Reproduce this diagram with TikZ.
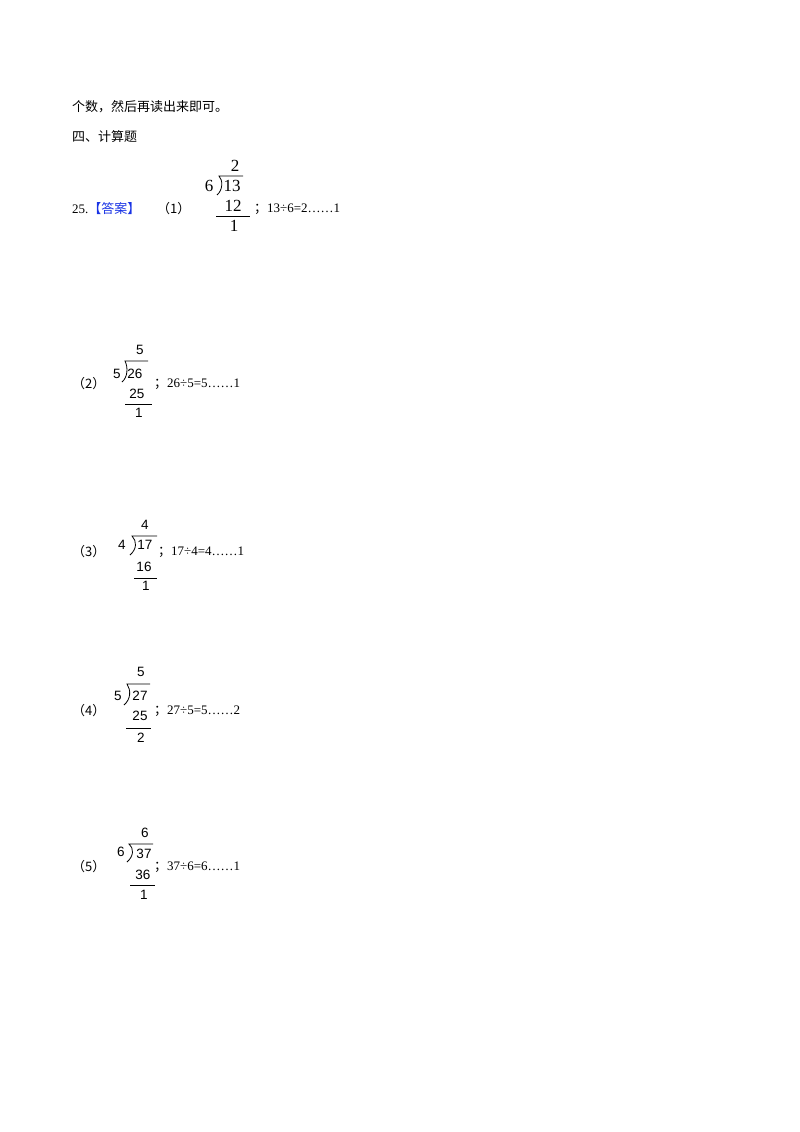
\documentclass[tikz,border=0pt]{standalone}
\usepackage{fontspec}
\setmainfont{Liberation Serif}
\newfontfamily\cjk{Noto Sans CJK SC}
\newfontfamily\arl{Liberation Sans}
\begin{document}
\begin{tikzpicture}[x=1pt,y=-1pt,
  txt/.style={anchor=west,inner sep=0pt,font=\fontsize{13}{15}\selectfont},
  dg/.style={inner sep=0pt,font=\arl\fontsize{13.5}{15}\selectfont},
  dg1/.style={inner sep=0pt,font=\fontsize{17}{19}\selectfont},
  ln/.style={line width=0.8pt}]
\useasboundingbox[fill=white] (0,0) rectangle (800,1132);
\node[txt] (h1) at (72,107) {\cjk 个数，然后再读出来即可。};
\node[txt] (h2) at (72,137) {\cjk 四、计算题};
\node[txt] (n25) at (72,209) {25.\textcolor[rgb]{0.1,0.2,0.9}{\cjk【答案】}};
\node[txt] (p1) at (157,209) {\cjk（1）};
% div 1
\node[dg1] (q1) at (235,166) {2};
\node[dg1] (d1) at (209,186) {6};
\node[dg1] (a1) at (232,186) {13};
\node[dg1] (s1) at (233,206) {12};
\node[dg1] (r1) at (234,226) {1};
\draw[ln] (217,195) .. controls (223,190) and (223,180) .. (219,176) -- (243,176);
\draw[ln] (216,216) -- (250,216);
\node[txt] (e1) at (254,209) {{\cjk ；}13÷6=2……1};
% div 2
\node[txt] (p2) at (72,384) {\cjk（2）};
\node[dg] (q2) at (140,350) {5};
\node[dg] (d2) at (117,374) {5};
\node[dg] (a2) at (135,374) {26};
\node[dg] (s2) at (137,394) {25};
\node[dg] (r2) at (139,413) {1};
\draw[ln] (122,382) .. controls (128,377) and (128,367) .. (125,361) -- (148,361);
\draw[ln] (125,404) -- (152,404);
\node[txt] (e2) at (154,384) {{\cjk ；}26÷5=5……1};
% div 3
\node[txt] (p3) at (72,552) {\cjk（3）};
\node[dg] (q3) at (145,525) {4};
\node[dg] (d3) at (122,545) {4};
\node[dg] (a3) at (145,545) {17};
\node[dg] (s3) at (144,567) {16};
\node[dg] (r3) at (146,586) {1};
\draw[ln] (130,555) .. controls (137,549) and (137,541) .. (132,536) -- (157,536);
\draw[ln] (134,578) -- (157,578);
\node[txt] (e3) at (158,552) {{\cjk ；}17÷4=4……1};
% div 4
\node[txt] (p4) at (72,711) {\cjk（4）};
\node[dg] (q4) at (141,672) {5};
\node[dg] (d4) at (118,696) {5};
\node[dg] (a4) at (140,696) {27};
\node[dg] (s4) at (140,716) {25};
\node[dg] (r4) at (141,738) {2};
\draw[ln] (124,705) .. controls (131,699) and (131,690) .. (127,684) -- (150,684);
\draw[ln] (126,728) -- (151,728);
\node[txt] (e4) at (154,711) {{\cjk ；}27÷5=5……2};
% div 5
\node[txt] (p5) at (72,867) {\cjk（5）};
\node[dg] (q5) at (145,833) {6};
\node[dg] (d5) at (121,852) {6};
\node[dg] (a5) at (144,854) {37};
\node[dg] (s5) at (143,875) {36};
\node[dg] (r5) at (144,895) {1};
\draw[ln] (127,862) .. controls (134,856) and (134,848) .. (129,844) -- (153,844);
\draw[ln] (130,885) -- (155,885);
\node[txt] (e5) at (154,867) {{\cjk ；}37÷6=6……1};
\end{tikzpicture}
\end{document}
